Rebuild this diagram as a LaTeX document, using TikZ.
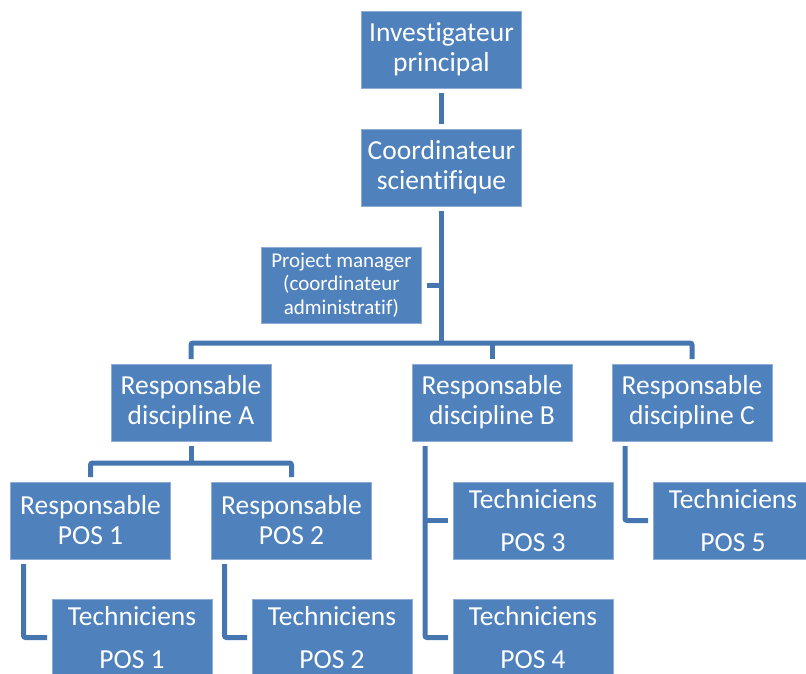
\documentclass[tikz,border=0pt]{standalone}
\usepackage{fontspec}
\setmainfont[Ligatures=NoCommon]{Carlito}
\usetikzlibrary{positioning}
\definecolor{boxblue}{HTML}{4F81BD}
\definecolor{boxedge}{HTML}{8EACD4}
\definecolor{linkblue}{HTML}{4676B0}

\begin{document}
\begin{tikzpicture}[x=1pt, y=-1pt, rec/.style={draw=boxedge, line width=0.6pt, fill=boxblue, text=white, align=center, minimum width=160pt, minimum height=77pt, inner sep=0pt, outer sep=5pt, font=\fontsize{27.5}{30}\selectfont}, srec/.style={rec, font=\fontsize{21}{23.5}\selectfont}, link/.style={draw=linkblue, line width=5pt, rounded corners=2pt}]

          \useasboundingbox (0,0) rectangle (806,673);

          \node[rec] at (441.5,49.5) (inv) {Investigateur\\principal};
          \node[rec] at (441.5,167.5) (coord) {Coordinateur\\scientifique};
          \node[srec, minimum height=76pt] at (341.5,285) (pm) {Project manager\\(coordinateur\\administratif)};

          \node[rec] at (191,402.5) (discA) {Responsable\\discipline A};
          \node[rec] at (492,402.5) (discB) {Responsable\\discipline B};
          \node[rec] at (692,402.5) (discC) {Responsable\\discipline C};

          \node[rec] at (90.5,520.5) (posA) {Responsable\\POS 1};
          \node[rec] at (291.5,520.5) (posB) {Responsable\\POS 2};

          \node[rec] at (132,637.5) (tech1) {Techniciens\\[13pt]POS 1};
          \node[rec] at (332,637.5) (tech2) {Techniciens\\[13pt]POS 2};
          \node[rec] at (533,520.5) (tech3) {Techniciens\\[13pt]POS 3};
          \node[rec] at (533,637.5) (tech4) {Techniciens\\[13pt]POS 4};
          \node[rec] at (733,520.5) (tech5) {Techniciens\\[13pt]POS 5};

          \coordinate (bar) at (441.5,343);
          \coordinate (splitA) at (191,463);
          \coordinate (spineB) at ([xshift=18pt]discB.south west);

          \draw[link](inv) -- (coord);
          \draw[link](coord.south) -- (bar);
          \draw[link](pm.east) -- (pm.east -| bar);
          \draw[link](discA.north) |- (bar) -| (discC.north);
          \draw[link](discB.north) -- (discB.north |- bar);

          \draw[link](discA.south) -- (splitA);
          \draw[link](posA.north) |- (splitA) -| (posB.north);
          \draw[link]([xshift=18pt]posA.south west) |- (tech1.west);
          \draw[link]([xshift=18pt]posB.south west) |- (tech2.west);

          \draw[link](spineB) |- (tech4.west);
          \draw[link](tech3.west) -- (tech3.west -| spineB);
          \draw[link]([xshift=18pt]discC.south west) |- (tech5.west);

      \end{tikzpicture}
\end{document}
